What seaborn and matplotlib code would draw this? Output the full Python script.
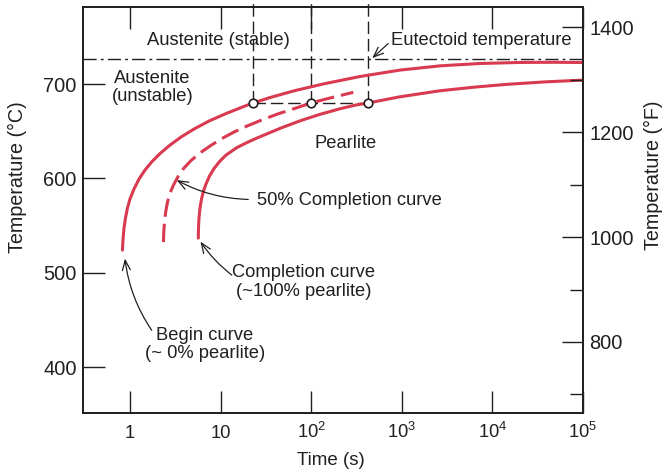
import matplotlib
matplotlib.use("Agg")
import matplotlib.pyplot as plt
import matplotlib.ticker as mticker
import numpy as np
import pandas as pd
import seaborn as sns

# ---------------- data ----------------
begin_t = [0.826, 0.837, 0.859, 0.892, 0.938, 1.0, 1.107, 1.257, 1.464, 1.749,
           2.144, 2.764, 3.655, 5.087, 7.447, 11.47, 18.59, 23, 35.1, 66.3,
           142, 345.6, 955, 2640, 7298, 20170, 49090, 100000]
begin_T = [524.0, 534.6, 547.3, 557.9, 568.5, 578.1, 588.7, 599.3, 608.8, 617.8,
           626.3, 635.3, 643.8, 652.3, 660.8, 668.7, 676.7, 680, 685.7, 693.1,
           700.5, 708.0, 714.8, 719.3, 721.8, 722.9, 723.1, 722.8]

half_t = [2.343, 2.361, 2.403, 2.477, 2.594, 2.764, 3.021, 3.388, 3.945, 4.713,
          5.925, 7.638, 10.10, 13.71, 19.56, 28.64, 43.02, 66.27, 100, 161.3, 291.5]
half_T = [532.5, 543.1, 553.7, 564.3, 574.9, 584.4, 592.9, 601.9, 611.0, 618.9,
          626.9, 634.3, 641.7, 648.6, 655.5, 662.0, 668.4, 674.2, 680, 685.2, 691.2]

end_t = [5.675, 5.704, 5.776, 5.925, 6.156, 6.477, 6.901, 7.544, 8.456, 9.725,
         11.47, 15.17, 19.56, 25.22, 45.25, 75.22, 125.1, 208.0, 304.3, 427,
         955, 2640, 6427, 14490, 38080, 100000]
end_T = [536.7, 547.3, 557.9, 568.5, 578.1, 586.6, 594.0, 602.5, 610.4, 617.8,
         624.7, 632.7, 638.0, 642.8, 653.0, 661.0, 667.9, 673.8, 677.6, 680,
         686.5, 692.9, 696.8, 699.7, 702.3, 704.2]

eutectoid_T = 727
iso_T = 680
iso_times = [23, 100, 427]

x_ticks = [1, 10, 100, 1000, 10000, 100000]
x_ticklabels = ["1", "10", r"$\mathregular{10^2}$", r"$\mathregular{10^3}$",
                r"$\mathregular{10^4}$", r"$\mathregular{10^5}$"]
yC_ticks = [400, 500, 600, 700]
yF_ticks = [800, 1000, 1200, 1400]
yF_minor = [700, 900, 1100, 1300]

# ---------------- style ----------------
sns.set_theme(style="ticks")
plt.rcParams["font.family"] = ["Liberation Sans", "DejaVu Sans"]
plt.rcParams["mathtext.fontset"] = "custom"
plt.rcParams["mathtext.rm"] = "Liberation Sans"
plt.rcParams["mathtext.it"] = "Liberation Sans:italic"

INK = "#231f20"
RED = "#d93a4f"
ANN = 13.2
XTICK = 13.2
YTICK = 14.4
LAB = 14.2

fig = plt.figure(figsize=(6.65, 4.75), dpi=100)
ax = fig.add_axes([0.1248, 0.1299, 0.7519, 0.856])
ax.set_xscale("log")

df_b = pd.DataFrame({"t": begin_t, "T": begin_T})
df_h = pd.DataFrame({"t": half_t, "T": half_T})
df_e = pd.DataFrame({"t": end_t, "T": end_T})

sns.lineplot(data=df_b, x="t", y="T", ax=ax, sort=False, estimator=None,
             color=RED, lw=2.2, zorder=3)
sns.lineplot(data=df_h, x="t", y="T", ax=ax, sort=False, estimator=None,
             color=RED, lw=2.2, linestyle=(0, (6.0, 2.3)), zorder=3)
sns.lineplot(data=df_e, x="t", y="T", ax=ax, sort=False, estimator=None,
             color=RED, lw=2.2, zorder=3)

ax.set_xlim(0.303, 1e5)
ax.set_ylim(351, 782)

# eutectoid line
ax.axhline(eutectoid_T, color=INK, lw=1.0, ls=(0, (9.5, 3, 2, 3)), zorder=2)

# isothermal dashed construction
dash = (0, (9, 3.5))
for t in iso_times:
    ax.plot([t, t], [iso_T, 789], color=INK, lw=1.0, ls=dash, clip_on=False, zorder=2)
ax.plot([iso_times[0], iso_times[-1]], [iso_T, iso_T], color=INK, lw=1.0, ls=dash, zorder=2)
sns.scatterplot(x=iso_times, y=[iso_T] * len(iso_times), ax=ax, marker="o", s=38,
                facecolor="white", edgecolor=INK, linewidth=1.2, zorder=6)

# ---------------- axes / ticks ----------------
ax.set_xticks(x_ticks)
ax.set_xticklabels(x_ticklabels)
ax.xaxis.set_minor_locator(mticker.NullLocator())
ax.set_yticks(yC_ticks)
ax.yaxis.set_minor_locator(mticker.NullLocator())
ax.tick_params(axis="x", which="major", direction="in", length=15.6, width=1.0,
               top=True, bottom=True, labelsize=XTICK, colors=INK, pad=17.5)
ax.tick_params(axis="y", which="major", direction="in", length=15.6, width=1.0,
               left=True, right=False, labelsize=YTICK, colors=INK, pad=4.5)
for lbl in ax.get_xticklabels():
    lbl.set_va("baseline")
for s in ax.spines.values():
    s.set_linewidth(1.3)
    s.set_color(INK)

ax.set_xlabel("Time (s)", fontsize=13.5, color=INK)
ax.xaxis.set_label_coords(0.496, -0.095)
ax.set_ylabel("Temperature (°C)", fontsize=LAB, color=INK)
ax.yaxis.set_label_coords(-0.112, 0.581)

ax2 = ax.twinx()
ax2.set_ylim(351 * 9 / 5 + 32, 782 * 9 / 5 + 32)
ax2.set_yticks(yF_ticks)
ax2.set_yticks(yF_minor, minor=True)
ax2.tick_params(axis="y", which="major", direction="in", length=15.2, width=1.0,
                labelsize=YTICK, colors=INK, pad=4.5)
ax2.tick_params(axis="y", which="minor", direction="in", length=9.4, width=1.0,
                colors=INK)
ax2.set_ylabel("Temperature (°F)", fontsize=LAB, color=INK)
ax2.yaxis.set_label_coords(1.122, 0.585)
for s in ax2.spines.values():
    s.set_linewidth(1.3)
    s.set_color(INK)

# ---------------- annotations ----------------
txt = dict(fontsize=ANN, color=INK)
ax.text(9.36, 746.6, "Austenite (stable)", ha="center", va="center", **txt)
ax.text(760, 746.6, "Eutectoid temperature", ha="left", va="center", **txt)
ax.text(1.77, 696.5, "Austenite\n(unstable)", ha="center", va="center", linespacing=1.12, **txt)
ax.text(242, 637, "Pearlite", ha="center", va="center", **txt)
ax.text(25, 576.3, "50% Completion curve", ha="left", va="center", **txt)
ax.text(83.3, 490.0, "Completion curve\n(~100% pearlite)", ha="center", va="center",
        linespacing=1.12, **txt)
ax.text(6.73, 424.0, "Begin curve\n(~ 0% pearlite)", ha="center", va="center",
        linespacing=1.12, **txt)

arrow = dict(arrowstyle="->,head_length=0.6,head_width=0.24", color=INK, lw=0.9,
             shrinkA=0, shrinkB=0)
ax.annotate("", xy=(472, 727.5), xytext=(709, 743), arrowprops=arrow)
ax.annotate("", xy=(3.28, 598.2), xytext=(20.2, 577.7),
            arrowprops={**arrow, "connectionstyle": "arc3,rad=-0.12"})
ax.annotate("", xy=(6.0, 533), xytext=(13.3, 497.5),
            arrowprops={**arrow, "connectionstyle": "arc3,rad=-0.08"})
ax.annotate("", xy=(0.88, 515), xytext=(1.736, 439),
            arrowprops={**arrow, "connectionstyle": "arc3,rad=-0.12"})

fig.savefig("out.png", dpi=100)
